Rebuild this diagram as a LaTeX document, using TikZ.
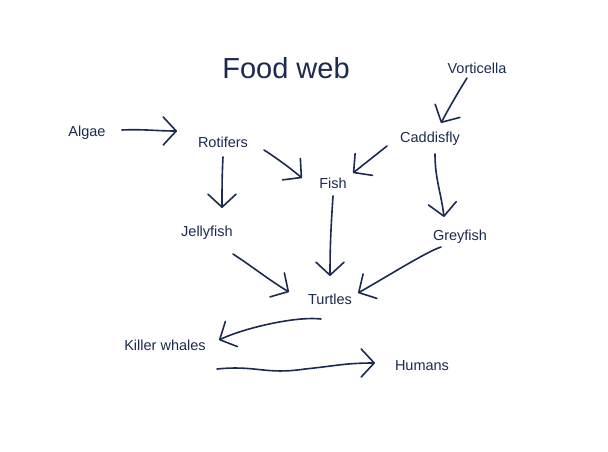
\documentclass[tikz,border=0pt]{standalone}
\usepackage{fontspec}
\setmainfont{Liberation Sans}
\usetikzlibrary{arrows.meta,calc}
\definecolor{ink}{RGB}{28,42,80}
\begin{document}
\begin{tikzpicture}[x=1pt,y=-1pt,
  lbl/.style={text=ink,font=\fontsize{14.5}{16}\selectfont,inner sep=0pt},
  ttl/.style={text=ink,font=\fontsize{29}{32}\selectfont,inner sep=0pt},
  arr/.style={draw=ink,line width=1.6pt,line cap=round,line join=round,
    -{Straight Barb[length=13pt,width=28pt,line width=1.6pt,round]}}]
\useasboundingbox[fill=white] (0,0) rectangle (608,452);
\node[ttl] (title) at (286,68) {Food web};
\node[lbl] (algae) at (87,133) {Algae};
\node[lbl] (rot) at (223,142) {Rotifers};
\node[lbl] (vort) at (477,68) {Vorticella};
\node[lbl] (cad) at (430,139) {Caddisfly};
\node[lbl] (fish) at (333,183) {Fish};
\node[lbl] (jel) at (207,233) {Jellyfish};
\node[lbl] (grey) at (460,237) {Greyfish};
\node[lbl] (tur) at (330,299) {Turtles};
\node[lbl] (kw) at (165,345) {Killer whales};
\node[lbl] (hum) at (422,366) {Humans};
% connectors
\draw[arr] ($(algae)+(35,-3)$) .. controls +(20,-1) and +(-20,0) .. ($(rot)+(-46,-11)$);
\draw[arr] ($(rot)+(0,15)$) .. controls +(-1,18) and +(0,-18) .. ($(jel)+(15,-25)$);
\draw[arr] ($(rot)+(41,8)$) .. controls +(14,9) and +(-12,-10) .. ($(fish)+(-31,-5)$);
\draw[arr] ($(cad)+(-43,7)$) -- ($(fish)+(20,-10)$);
\draw[arr] ($(vort)+(-10,10)$) .. controls +(-10,16) and +(8,-15) .. ($(cad)+(11,-16)$);
\draw[arr] ($(cad)+(5,15)$) .. controls +(0,25) and +(-3,-25) .. ($(grey)+(-16,-20)$);
\draw[arr] ($(fish)+(0,13)$) .. controls +(-2,30) and +(0,-30) .. ($(tur)+(0,-23)$);
\draw[arr] ($(jel)+(26,21)$) .. controls +(20,13) and +(-20,-12) .. ($(tur)+(-41,-7)$);
\draw[arr] ($(grey)+(-19,10)$) .. controls +(-15,5) and +(30,-17) .. ($(tur)+(28,-6)$);
\draw[arr] ($(tur)+(-9,20)$) .. controls +(-25,-3) and +(25,-12) .. ($(kw)+(54,-5)$);
\draw[arr] ($(kw)+(52,24)$) .. controls +(40,-4) and +(-40,6) .. ($(kw)+(140,24)$) .. controls +(30,-3) and +(-30,0) .. ($(hum)+(-47,-3)$);
\end{tikzpicture}
\end{document}
